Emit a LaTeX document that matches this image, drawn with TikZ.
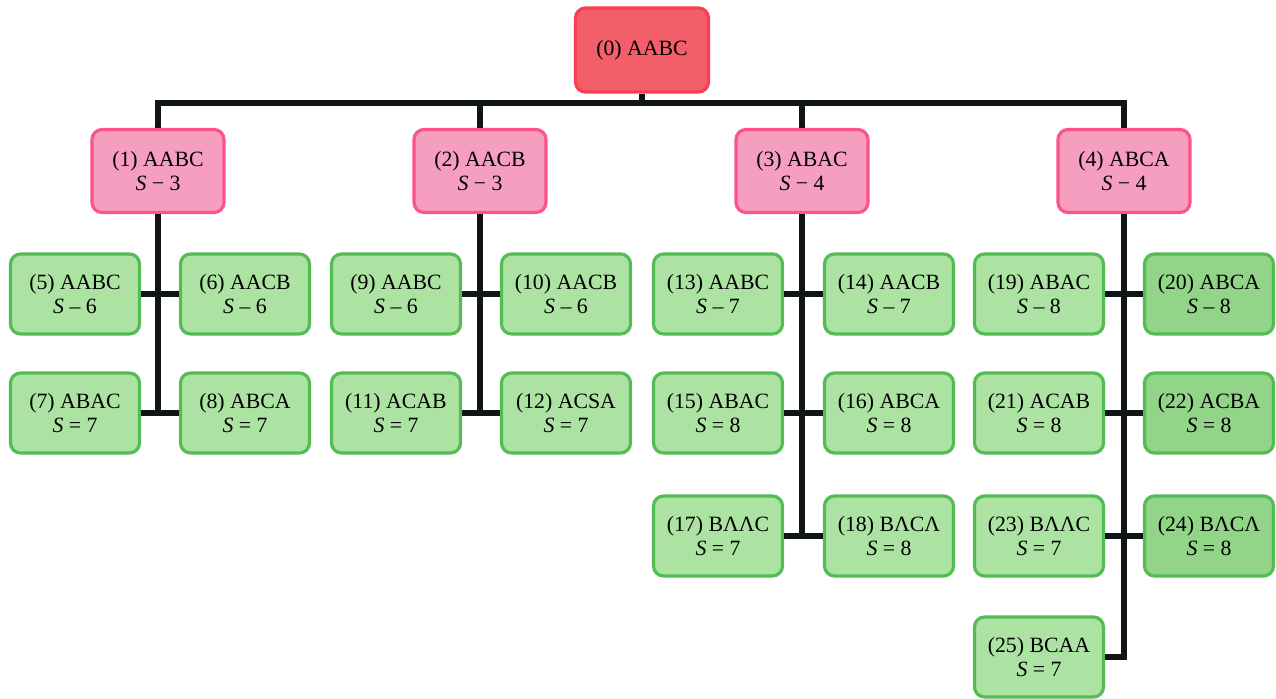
\documentclass[tikz,border=0pt]{standalone}
\usepackage{fontspec}
\setmainfont{Liberation Serif}
\begin{document}
\begin{tikzpicture}[x=0.5pt,y=-0.5pt,
  box/.style={rectangle, rounded corners=5pt, line width=1.6pt, inner sep=0pt, align=center,
    font=\fontsize{10.9}{12}\selectfont},
  rootbox/.style={box, draw=rootline, fill=rootfill, minimum width=66.5pt, minimum height=42pt},
  midbox/.style={box, draw=midline, fill=midfill, minimum width=66pt, minimum height=41.5pt},
  leafbox/.style={box, draw=leafline, fill=leaffill, minimum width=64.5pt, minimum height=40pt},
  darkleaf/.style={leafbox, fill=leafdark},
  conn/.style={draw=connc, line width=2.6pt, line join=miter}]
\definecolor{rootline}{RGB}{250,62,82}
\definecolor{rootfill}{RGB}{242,94,106}
\definecolor{midline}{RGB}{252,84,136}
\definecolor{midfill}{RGB}{246,158,192}
\definecolor{leafline}{RGB}{84,188,84}
\definecolor{leaffill}{RGB}{172,226,162}
\definecolor{leafdark}{RGB}{146,212,136}
\definecolor{connc}{RGB}{16,22,24}
\useasboundingbox (0,0) rectangle (1276,698);

% root
\node[rootbox] (n0) at (642,50) {(0) AABC};
% level 1
\node[midbox] (n1) at (158,171) {(1) AABC\\ \textit{S} − 3};
\node[midbox] (n2) at (480,171) {(2) AACB\\ \textit{S} − 3};
\node[midbox] (n3) at (802,171) {(3) ABAC\\ \textit{S} − 4};
\node[midbox] (n4) at (1124,171) {(4) ABCA\\ \textit{S} − 4};
% level 2, group 1
\node[leafbox] (n5) at (75,294) {(5) AABC\\ \textit{S} – 6};
\node[leafbox] (n6) at (245,294) {(6) AACB\\ \textit{S} – 6};
\node[leafbox] (n7) at (75,413) {(7) ABAC\\ \textit{S} = 7};
\node[leafbox] (n8) at (245,413) {(8) ABCA\\ \textit{S} = 7};
% group 2
\node[leafbox] (n9) at (396,294) {(9) AABC\\ \textit{S} – 6};
\node[leafbox] (n10) at (566,294) {(10) AACB\\ \textit{S} – 6};
\node[leafbox] (n11) at (396,413) {(11) ACAB\\ \textit{S} = 7};
\node[leafbox] (n12) at (566,413) {(12) ACSA\\ \textit{S} = 7};
% group 3
\node[leafbox] (n13) at (718,294) {(13) AABC\\ \textit{S} – 7};
\node[leafbox] (n14) at (889,294) {(14) AACB\\ \textit{S} – 7};
\node[leafbox] (n15) at (718,413) {(15) ABAC\\ \textit{S} = 8};
\node[leafbox] (n16) at (889,413) {(16) ABCA\\ \textit{S} = 8};
\node[leafbox] (n17) at (718,536) {(17) BΛΛC\\ \textit{S} = 7};
\node[leafbox] (n18) at (889,536) {(18) BΛCΛ\\ \textit{S} = 8};
% group 4
\node[leafbox] (n19) at (1039,294) {(19) ABAC\\ \textit{S} – 8};
\node[darkleaf] (n20) at (1209,294) {(20) ABCA\\ \textit{S} – 8};
\node[leafbox] (n21) at (1039,413) {(21) ACAB\\ \textit{S} = 8};
\node[darkleaf] (n22) at (1209,413) {(22) ACBA\\ \textit{S} = 8};
\node[leafbox] (n23) at (1039,536) {(23) BΛΛC\\ \textit{S} = 7};
\node[darkleaf] (n24) at (1209,536) {(24) BΛCΛ\\ \textit{S} = 8};
\node[leafbox] (n25) at (1039,657) {(25) BCAA\\ \textit{S} = 7};

% connectors: root to level 1
\coordinate (bus) at (0,103);
\draw[conn] (n0.south) -- (n0.south |- bus);
\draw[conn] (n1.north) -- (n1.north |- bus) -- (n4.north |- bus) -- (n4.north);
\draw[conn] (n2.north) -- (n2.north |- bus);
\draw[conn] (n3.north) -- (n3.north |- bus);
% group 1
\draw[conn] (n1.south) -- (n1.south |- n7.east);
\draw[conn] (n5.east) -- (n6.west);
\draw[conn] (n7.east) -- (n8.west);
% group 2
\draw[conn] (n2.south) -- (n2.south |- n11.east);
\draw[conn] (n9.east) -- (n10.west);
\draw[conn] (n11.east) -- (n12.west);
% group 3
\draw[conn] (n3.south) -- (n3.south |- n17.east);
\draw[conn] (n13.east) -- (n14.west);
\draw[conn] (n15.east) -- (n16.west);
\draw[conn] (n17.east) -- (n18.west);
% group 4
\draw[conn] (n4.south) |- (n25.east);
\draw[conn] (n19.east) -- (n20.west);
\draw[conn] (n21.east) -- (n22.west);
\draw[conn] (n23.east) -- (n24.west);
\end{tikzpicture}
\end{document}
